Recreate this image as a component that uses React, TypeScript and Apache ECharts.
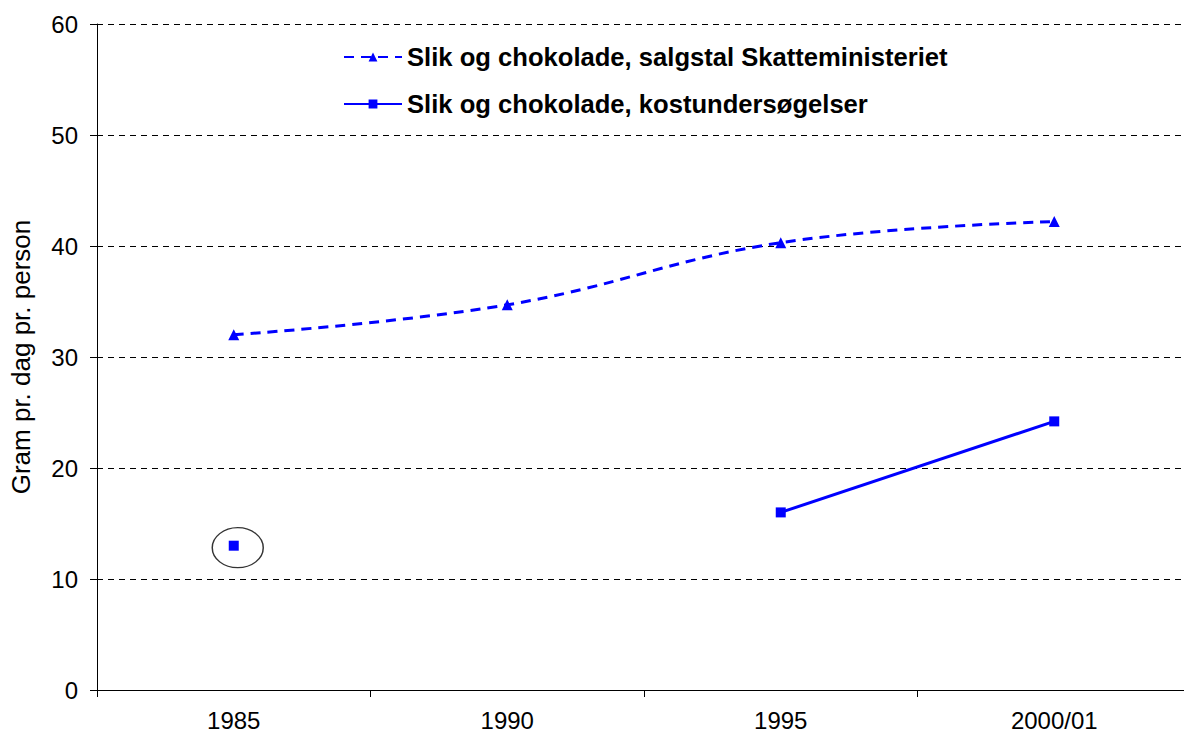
import React, { useEffect, useRef } from "react";
import * as echarts from "echarts";

const categories = ["1985", "1990", "1995", "2000/01"];
const salesSeriesName = "Slik og chokolade, salgstal Skatteministeriet";
const salesValues = [32.0, 34.7, 40.3, 42.2];
const surveySeriesName = "Slik og chokolade, kostundersøgelser";
const surveyValues: (number | null)[] = [13.0, null, 16.0, 24.2];
const highlightedIndex = 0;
const yTicks = { min: 0, max: 60, interval: 10 };
const yAxisTitle = "Gram pr. dag pr. person";

const FONT = "'Liberation Sans', Arial, sans-serif";
const BLUE = "#0000ff";

export default function App() {
  const ref = useRef<HTMLDivElement>(null);
  useEffect(() => {
    if (!ref.current) return;
    const chart = echarts.init(ref.current, null, { renderer: "svg" });
    const ellipsePath = "path://M0,-1A1,1 0 1,1 0,1A1,1 0 1,1 0,-1Z";
    chart.setOption({
      animation: false,
      backgroundColor: "#ffffff",
      textStyle: { fontFamily: FONT },
      grid: { left: 97, top: 24, right: 0, bottom: 50, containLabel: false },
      legend: {
        orient: "vertical",
        left: 338,
        top: 39,
        itemWidth: 58,
        itemHeight: 11,
        itemGap: 21,
        data: [salesSeriesName, surveySeriesName],
        textStyle: { fontFamily: FONT, fontSize: 25.6, fontWeight: "bold", color: "#000" },
        selectedMode: false,
      },
      xAxis: {
        type: "category",
        data: categories,
        boundaryGap: true,
        axisLine: { lineStyle: { color: "#000", width: 1 } },
        axisTick: { show: true, length: 7, inside: false, lineStyle: { color: "#000" } },
        axisLabel: { fontFamily: FONT, fontSize: 24, color: "#000", margin: 18 },
        splitLine: { show: false },
      },
      yAxis: {
        type: "value",
        min: yTicks.min,
        max: yTicks.max,
        interval: yTicks.interval,
        name: yAxisTitle,
        nameLocation: "middle",
        nameGap: 63,
        nameTextStyle: { fontFamily: FONT, fontSize: 26, color: "#000" },
        axisLine: { show: true, lineStyle: { color: "#000", width: 1 } },
        axisTick: { show: true, length: 7, lineStyle: { color: "#000" } },
        axisLabel: { fontFamily: FONT, fontSize: 24, color: "#000", margin: 19 },
        splitLine: { show: true, lineStyle: { color: "#000", type: [6, 5], width: 1 } },
      },
      series: [
        {
          name: salesSeriesName,
          type: "line",
          data: salesValues,
          smooth: 0.4,
          symbol: "triangle",
          symbolSize: 11,
          showAllSymbol: true,
          itemStyle: { color: BLUE },
          lineStyle: { color: BLUE, width: 3, type: [10, 7] },
          z: 3,
        },
        {
          name: surveySeriesName,
          type: "line",
          data: surveyValues,
          connectNulls: false,
          symbol: "rect",
          symbolSize: 10,
          showAllSymbol: true,
          itemStyle: { color: BLUE },
          lineStyle: { color: BLUE, width: 3 },
          z: 3,
        },
        {
          name: "highlight",
          type: "scatter",
          data: categories.map((c, i) =>
            i === highlightedIndex ? [c, surveyValues[i] as number] : [c, null]
          ),
          symbol: ellipsePath,
          symbolSize: [51, 40],
          symbolKeepAspect: false,
          symbolOffset: [4, 2],
          itemStyle: { color: "none", borderColor: "#000", borderWidth: 1.3 },
          silent: true,
          z: 2,
        },
      ],
    });
    return () => chart.dispose();
  }, []);
  return (
    <div
      style={{ position: "absolute", left: 0, top: 0, width: 1184, height: 740, overflow: "hidden", background: "#fff" }}
    >
      <div ref={ref} style={{ width: 1191, height: 740 }} />
    </div>
  );
}
